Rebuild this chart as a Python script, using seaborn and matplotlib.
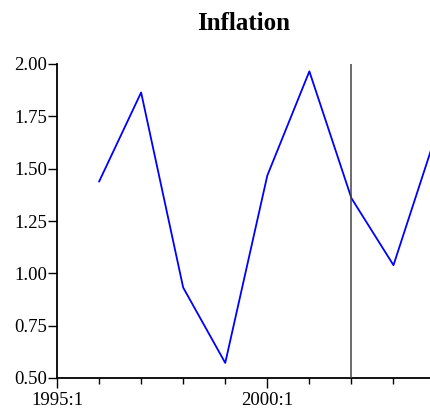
import matplotlib
matplotlib.use("Agg")
import matplotlib.pyplot as plt
import seaborn as sns
import pandas as pd
from matplotlib.ticker import FixedLocator, MultipleLocator

years = [1996, 1997, 1998, 1999, 2000, 2001, 2002, 2003, 2004]
inflation = [1.438, 1.864, 0.932, 0.572, 1.467, 1.965, 1.359, 1.039, 1.655]
major_ticks = [1995, 2000]
major_labels = ["1995:1", "2000:1"]
y_ticks = [0.50, 0.75, 1.00, 1.25, 1.50, 1.75, 2.00]
marker_year = 2002

sns.set_style("ticks")
plt.rcParams['font.family'] = ['Liberation Serif', 'DejaVu Serif']

df = pd.DataFrame({"year": years, "inflation": inflation})

fig = plt.figure(figsize=(4.31, 4.12), dpi=100)
ax = fig.add_axes([57/431, 34/412, 374/431, 314/412])
sns.lineplot(data=df, x="year", y="inflation", color="#0000ff", linewidth=1.3, ax=ax)
ax.axvline(marker_year, color="#444444", linewidth=1.1, zorder=3)

ax.set_xlim(1995, 1995 + 374/42.06)
ax.set_ylim(0.5, 2.0)
ax.xaxis.set_major_locator(FixedLocator(major_ticks))
ax.set_xticklabels(major_labels)
ax.xaxis.set_minor_locator(MultipleLocator(1))
ax.set_yticks(y_ticks)
ax.set_yticklabels([f"{v:.2f}" for v in y_ticks])
ax.tick_params(axis="both", which="major", direction="out", width=1.0,
               labelsize=13.5, color="black", labelcolor="black")
ax.tick_params(axis="y", which="major", length=6.5, pad=0.5)
ax.tick_params(axis="x", which="major", length=7.5, pad=2.5)
ax.tick_params(axis="x", which="minor", direction="out", length=4.5, width=1.0, color="black")
for s in ["top", "right"]:
    ax.spines[s].set_visible(False)
for s in ["left", "bottom"]:
    ax.spines[s].set_color("black")
    ax.spines[s].set_linewidth(1.3)
ax.set_xlabel("")
ax.set_ylabel("")
ax.set_title("Inflation", fontsize=18, fontweight="bold", pad=24.5, color="black")
ax.grid(False)

fig.savefig("out.png", dpi=100)
